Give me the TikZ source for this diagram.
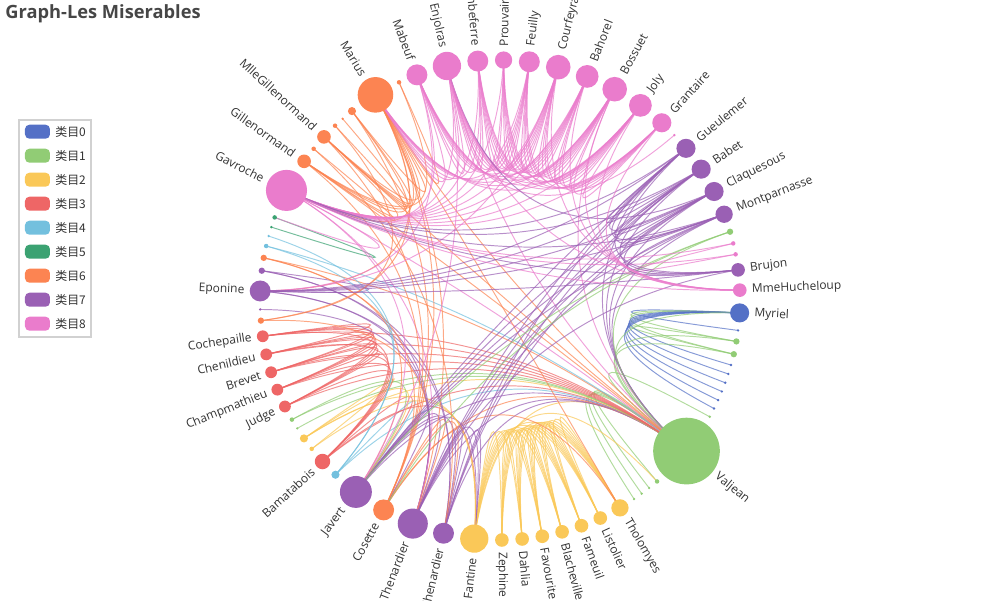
\documentclass[tikz,border=0pt]{standalone}
\usepackage{fontspec}
\setmainfont{Open Sans}
\newfontfamily\cjk{Noto Sans CJK SC}
\usetikzlibrary{calc}
\pgfdeclarelayer{bg}
\pgfsetlayers{bg,main}
\definecolor{cat0}{HTML}{5470C6}
\definecolor{cat1}{HTML}{91CC75}
\definecolor{cat2}{HTML}{FAC858}
\definecolor{cat3}{HTML}{EE6666}
\definecolor{cat4}{HTML}{73C0DE}
\definecolor{cat5}{HTML}{3BA272}
\definecolor{cat6}{HTML}{FC8452}
\definecolor{cat7}{HTML}{9A60B4}
\definecolor{cat8}{HTML}{EA7CCC}
\definecolor{txt}{HTML}{333333}
\definecolor{ttl}{HTML}{464646}
\begin{document}
\begin{tikzpicture}[
  ch/.style={circle,inner sep=0pt,draw=none},
  lbl/.style={inner sep=0pt,text=txt,font=\fontsize{6.8}{8}\selectfont},
  link/.style={line width=.55pt,draw opacity=.7},
  key/.style={rounded corners=2.5pt,minimum width=.5cm,minimum height=.28cm,inner sep=0pt}]
\useasboundingbox (-10,-6) rectangle (10,6);
\node[anchor=west,inner sep=0pt,text=ttl,font=\bfseries\fontsize{10.4}{12}\selectfont] (title) at (-9.9,5.72) {Graph-Les Miserables};
% legend
\draw[draw=black!18,line width=.8pt] (-9.62,3.6) rectangle (-8.18,-0.74);
\foreach \k in {0,...,8}
{
  \node[key,fill=cat\k] (key\k) at (-9.25,3.366-.48*\k) {};
  \node[lbl,anchor=west,font=\cjk\fontsize{6.8}{8}\selectfont] (cap\k) at (-8.9,3.366-.48*\k) {类目\k};
}
% characters on the circle: name/angle/size/category/label
\foreach \nm/\ang/\sz/\ct/\lb in {
  Myriel/3.08/28.69/0/1, Napoleon/7.28/4/0/0, MlleBaptistine/9.94/9.49/1/0,
  MmeMagloire/13.05/9.49/1/0, CountessDeLo/15.72/4/0/0, Geborand/17.95/4/0/0,
  Champtercier/20.18/4/0/0, Cravatte/22.41/4/0/0, Count/24.65/4/0/0,
  OldMan/26.88/4/0/0, Labarre/29.11/4/1/0, Valjean/39.00/100/1/1,
  Marguerite/49.12/6.74/1/0, MmeDeR/51.57/4/1/0, Isabeau/53.80/4/1/0,
  Gervais/56.03/4/1/0, Tholomyes/60.01/25.94/2/1, Listolier/65.30/20.46/2/1,
  Fameuil/70.15/20.46/2/1, Blacheville/75.00/20.46/2/1, Favourite/79.85/20.46/2/1,
  Dahlia/84.70/20.46/2/1, Zephine/89.55/20.46/2/1, Fantine/96.15/42.4/2/1,
  MmeThenardier/103.62/31.43/7/1, Thenardier/111.31/45.14/7/1, Cosette/119.00/31.43/6/1,
  Javert/126.90/47.89/7/1, Fauchelevent/133.28/12.23/4/0, Bamatabois/137.70/23.2/3/1,
  Perpetue/141.67/6.74/2/0, Simplice/144.78/12.23/2/0, Scaufflaire/147.66/4/1/0,
  Woman1/150.11/6.74/1/0, Judge/153.66/17.71/3/1, Champmathieu/158.07/17.71/3/1,
  Brevet/162.48/17.71/3/1, Chenildieu/166.90/17.71/3/1, Cochepaille/171.31/17.71/3/1,
  Pontmercy/175.07/9.49/6/0, Boulatruelle/177.74/4/7/0, Eponine/182.16/31.43/7/1,
  Anzelma/187.01/9.49/7/0, Woman2/190.11/9.49/6/0, MotherInnocent/193.00/6.74/4/0,
  Gribier/195.45/4/4/0, Jondrette/197.68/4/5/0, MmeBurgon/200.13/6.74/5/0,
  Gavroche/207.17/61.6/8/1, Gillenormand/215.30/20.46/6/1, Magnon/219.06/6.74/6/0,
  MlleGillenormand/222.82/20.46/6/1, MmePontmercy/226.58/6.74/6/0, MlleVaubois/229.03/4/6/0,
  LtGillenormand/231.92/12.23/6/0, Marius/238.74/53.37/6/1, BaronessT/245.12/6.74/6/0,
  Mabeuf/249.75/31.43/8/1, Enjolras/257.22/42.4/8/1, Combeferre/264.69/31.43/8/1,
  Prouvaire/270.86/25.94/8/1, Feuilly/277.02/31.43/8/1, Courfeyrac/284.05/36.91/8/1,
  Bahorel/291.30/34.17/8/1, Bossuet/298.55/36.91/8/1, Joly/305.81/34.17/8/1,
  Grantaire/312.40/28.69/8/1, MotherPlutarch/316.60/4/8/0, Gueulemer/320.80/28.69/7/1,
  Babet/326.96/28.69/7/1, Claquesous/333.12/28.69/7/1, Montparnasse/339.06/25.94/7/1,
  Toussaint/343.47/9.49/1/0, Child1/346.36/6.74/8/0, Child2/349.03/6.74/8/0,
  Brujon/352.79/20.46/7/1, MmeHucheloup/357.64/20.46/8/1}
{
  \pgfmathsetmacro\dia{\sz/75}
  \node[ch,fill=cat\ct,minimum size=\dia cm] (\nm) at (-\ang:4.8) {};
  \expandafter\xdef\csname col\nm\endcsname{cat\ct}
  \ifnum\lb=1
    \pgfmathsetmacro\lr{4.8+\sz/150+.1}
    \pgfmathtruncatemacro\rs{cos(\ang)>0}
    \ifnum\rs=1
      \node[lbl,anchor=west,rotate=-\ang] (\nm-t) at (-\ang:\lr) {\nm};
    \else
      \node[lbl,anchor=east,rotate=180-\ang] (\nm-t) at (-\ang:\lr) {\nm};
    \fi
  \fi
}
% links, coloured by their source
\begin{pgfonlayer}{bg}
\foreach \s/\ts in {
  Napoleon/{Myriel}, MlleBaptistine/{Myriel}, MmeMagloire/{Myriel,MlleBaptistine},
  CountessDeLo/{Myriel}, Geborand/{Myriel}, Champtercier/{Myriel}, Cravatte/{Myriel},
  Count/{Myriel}, OldMan/{Myriel},
  Valjean/{Labarre,MmeMagloire,MlleBaptistine,Myriel},
  Marguerite/{Valjean}, MmeDeR/{Valjean}, Isabeau/{Valjean}, Gervais/{Valjean},
  Listolier/{Tholomyes}, Fameuil/{Tholomyes,Listolier},
  Blacheville/{Tholomyes,Listolier,Fameuil},
  Favourite/{Tholomyes,Listolier,Fameuil,Blacheville},
  Dahlia/{Tholomyes,Listolier,Fameuil,Blacheville,Favourite},
  Zephine/{Tholomyes,Listolier,Fameuil,Blacheville,Favourite,Dahlia},
  Fantine/{Tholomyes,Listolier,Fameuil,Blacheville,Favourite,Dahlia,Zephine,Marguerite,Valjean},
  MmeThenardier/{Fantine,Valjean}, Thenardier/{MmeThenardier,Fantine,Valjean},
  Cosette/{MmeThenardier,Valjean,Tholomyes,Thenardier},
  Javert/{Valjean,Fantine,Thenardier,MmeThenardier,Cosette},
  Fauchelevent/{Valjean,Javert}, Bamatabois/{Fantine,Javert,Valjean},
  Perpetue/{Fantine}, Simplice/{Perpetue,Valjean,Fantine,Javert},
  Scaufflaire/{Valjean}, Woman1/{Valjean,Javert}, Judge/{Valjean,Bamatabois},
  Champmathieu/{Judge,Valjean,Bamatabois},
  Brevet/{Judge,Champmathieu,Valjean,Bamatabois},
  Chenildieu/{Judge,Champmathieu,Brevet,Valjean,Bamatabois},
  Cochepaille/{Judge,Champmathieu,Brevet,Chenildieu,Valjean,Bamatabois},
  Pontmercy/{Thenardier}, Boulatruelle/{Thenardier}, Eponine/{MmeThenardier,Thenardier},
  Anzelma/{Eponine,Thenardier,MmeThenardier}, Woman2/{Valjean,Cosette,Javert},
  MotherInnocent/{Fauchelevent,Valjean}, Gribier/{Fauchelevent}, MmeBurgon/{Jondrette},
  Gavroche/{MmeBurgon,Thenardier,Javert,Valjean}, Gillenormand/{Cosette,Valjean},
  Magnon/{Gillenormand,MmeThenardier}, MlleGillenormand/{Gillenormand,Cosette,Valjean},
  MmePontmercy/{MlleGillenormand,Pontmercy}, MlleVaubois/{MlleGillenormand},
  LtGillenormand/{MlleGillenormand,Gillenormand,Cosette},
  Marius/{MlleGillenormand,Gillenormand,Pontmercy,LtGillenormand,Cosette,Valjean,Tholomyes,Thenardier,Eponine,Gavroche},
  BaronessT/{Gillenormand,Marius}, Mabeuf/{Marius,Eponine,Gavroche},
  Enjolras/{Marius,Gavroche,Javert,Mabeuf,Valjean},
  Combeferre/{Enjolras,Marius,Gavroche,Mabeuf}, Prouvaire/{Gavroche,Enjolras,Combeferre},
  Feuilly/{Gavroche,Enjolras,Prouvaire,Combeferre,Mabeuf,Marius},
  Courfeyrac/{Marius,Enjolras,Combeferre,Gavroche,Mabeuf,Eponine,Feuilly,Prouvaire},
  Bahorel/{Combeferre,Gavroche,Courfeyrac,Mabeuf,Enjolras,Feuilly,Prouvaire,Marius},
  Bossuet/{Marius,Courfeyrac,Gavroche,Bahorel,Enjolras,Feuilly,Prouvaire,Combeferre,Mabeuf,Valjean},
  Joly/{Bahorel,Bossuet,Gavroche,Courfeyrac,Enjolras,Feuilly,Prouvaire,Combeferre,Mabeuf,Marius},
  Grantaire/{Bossuet,Enjolras,Combeferre,Courfeyrac,Joly,Gavroche,Bahorel,Feuilly,Prouvaire},
  MotherPlutarch/{Mabeuf},
  Gueulemer/{Thenardier,Valjean,MmeThenardier,Javert,Gavroche,Eponine},
  Babet/{Thenardier,Gueulemer,Valjean,MmeThenardier,Javert,Gavroche,Eponine},
  Claquesous/{Thenardier,Babet,Gueulemer,Valjean,MmeThenardier,Javert,Eponine,Enjolras},
  Montparnasse/{Javert,Babet,Gueulemer,Claquesous,Valjean,Gavroche,Eponine,Thenardier},
  Toussaint/{Cosette,Javert,Valjean}, Child1/{Gavroche}, Child2/{Gavroche,Child1},
  Brujon/{Babet,Gueulemer,Thenardier,Gavroche,Eponine,Claquesous,Montparnasse},
  MmeHucheloup/{Bossuet,Joly,Grantaire,Bahorel,Courfeyrac,Gavroche,Enjolras}}
{
  \edef\ec{\csname col\s\endcsname}
  \foreach \t in \ts
    \draw[link,color=\ec] (\s.center)
      .. controls ($.3667*(\s.center)+.0333*(\t.center)$)
      and ($.0333*(\s.center)+.3667*(\t.center)$) .. (\t.center);
}
\end{pgfonlayer}
\end{tikzpicture}
\end{document}
